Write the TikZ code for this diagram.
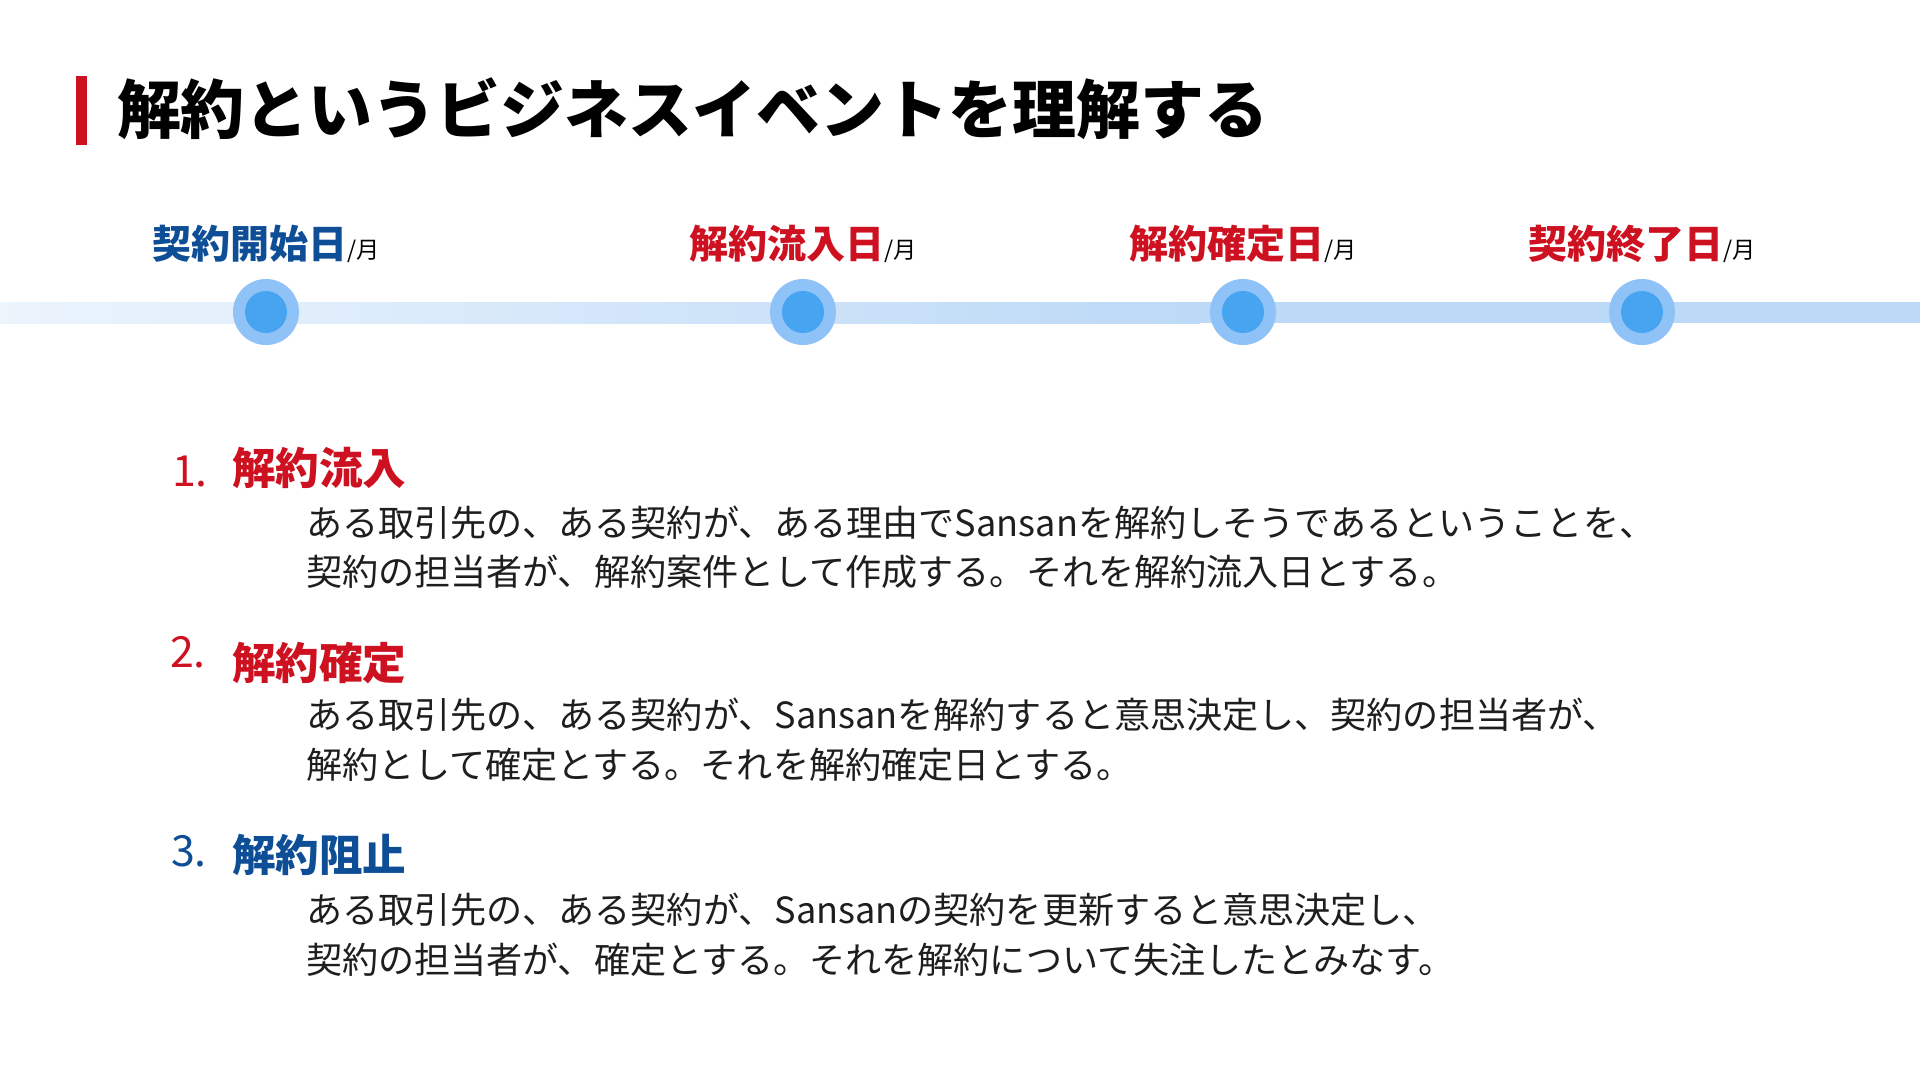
\documentclass[tikz,border=0pt]{standalone}
\usepackage{fontspec}
\setmainfont{Noto Sans CJK JP}
\usepackage{tikz}
\definecolor{keyred}{RGB}{206,17,32}
\definecolor{keyblue}{RGB}{14,78,150}
\definecolor{barlight}{RGB}{236,244,252}
\definecolor{barmid}{RGB}{188,217,247}
\definecolor{dotouter}{RGB}{143,194,246}
\definecolor{dotinner}{RGB}{70,164,241}
\definecolor{bodyink}{RGB}{30,30,30}

\begin{document}
\begin{tikzpicture}[x=0.1mm, y=-0.1mm, every node/.style={inner sep=0pt, outer sep=0pt},
  datelabel/.style={anchor=base, font=\fontsize{11.1}{13}\selectfont\bfseries},
  ringdot/.style={circle, fill=dotouter, minimum size=6.6mm},
  coredot/.style={circle, fill=dotinner, minimum size=4.2mm},
  itemnum/.style={anchor=base west, font=\fontsize{12.2}{14}\selectfont},
  itemhead/.style={anchor=base west, font=\fontsize{12.4}{14}\selectfont\bfseries},
  bodyline/.style={anchor=base west, text=bodyink, font=\fontsize{10.27}{12}\selectfont}]
  \useasboundingbox (0,0) rectangle (1920,1080);
  \fill[white] (0,0) rectangle (1920,1080);
  % title
  \fill[keyred] (76,76) rectangle (87,145);
  \node[anchor=base west, font=\fontsize{18.2}{21}\selectfont\bfseries] (title) at (117,133) {解約というビジネスイベントを理解する};
  % timeline
  \shade[left color=barlight, right color=barmid] (0,302) rectangle (1200,323);
  \fill[barmid] (1199,302) rectangle (1920,323);
  \node[ringdot] (dot1) at (266,312) {};
  \node[coredot] (core1) at (dot1) {};
  \node[ringdot] (dot2) at (803,312) {};
  \node[coredot] (core2) at (dot2) {};
  \node[ringdot] (dot3) at (1243,312) {};
  \node[coredot] (core3) at (dot3) {};
  \node[ringdot] (dot4) at (1642,312) {};
  \node[coredot] (core4) at (dot4) {};
  \node[datelabel, text=keyblue] (start) at (266,258) {契約開始日\textcolor{black}{\fontsize{6.6}{8}\selectfont\mdseries /月}};
  \node[datelabel, text=keyred] (inflow) at (803,258) {解約流入日\textcolor{black}{\fontsize{6.6}{8}\selectfont\mdseries /月}};
  \node[datelabel, text=keyred] (fixed) at (1243,258) {解約確定日\textcolor{black}{\fontsize{6.6}{8}\selectfont\mdseries /月}};
  \node[datelabel, text=keyred] (finish) at (1642,258) {契約終了日\textcolor{black}{\fontsize{6.6}{8}\selectfont\mdseries /月}};
  % 1.
  \node[itemnum, text=keyred] (num1) at (172,486) {1.};
  \node[itemhead, text=keyred] (head1) at (232,484) {解約流入};
  \node[bodyline] (body1a) at (306,536) {ある取引先の、ある契約が、ある理由でSansanを解約しそうであるということを、};
  \node[bodyline] (body1b) at (306,585) {契約の担当者が、解約案件として作成する。それを解約流入日とする。};
  % 2.
  \node[itemnum, text=keyred] (num2) at (170,667) {2.};
  \node[itemhead, text=keyred] (head2) at (232,679) {解約確定};
  \node[bodyline] (body2a) at (306,728) {ある取引先の、ある契約が、Sansanを解約すると意思決定し、契約の担当者が、};
  \node[bodyline] (body2b) at (306,778) {解約として確定とする。それを解約確定日とする。};
  % 3.
  \node[itemnum, text=keyblue] (num3) at (171,866) {3.};
  \node[itemhead, text=keyblue] (head3) at (232,871) {解約阻止};
  \node[bodyline] (body3a) at (306,923) {ある取引先の、ある契約が、Sansanの契約を更新すると意思決定し、};
  \node[bodyline] (body3b) at (306,973) {契約の担当者が、確定とする。それを解約について失注したとみなす。};
\end{tikzpicture}
\end{document}
